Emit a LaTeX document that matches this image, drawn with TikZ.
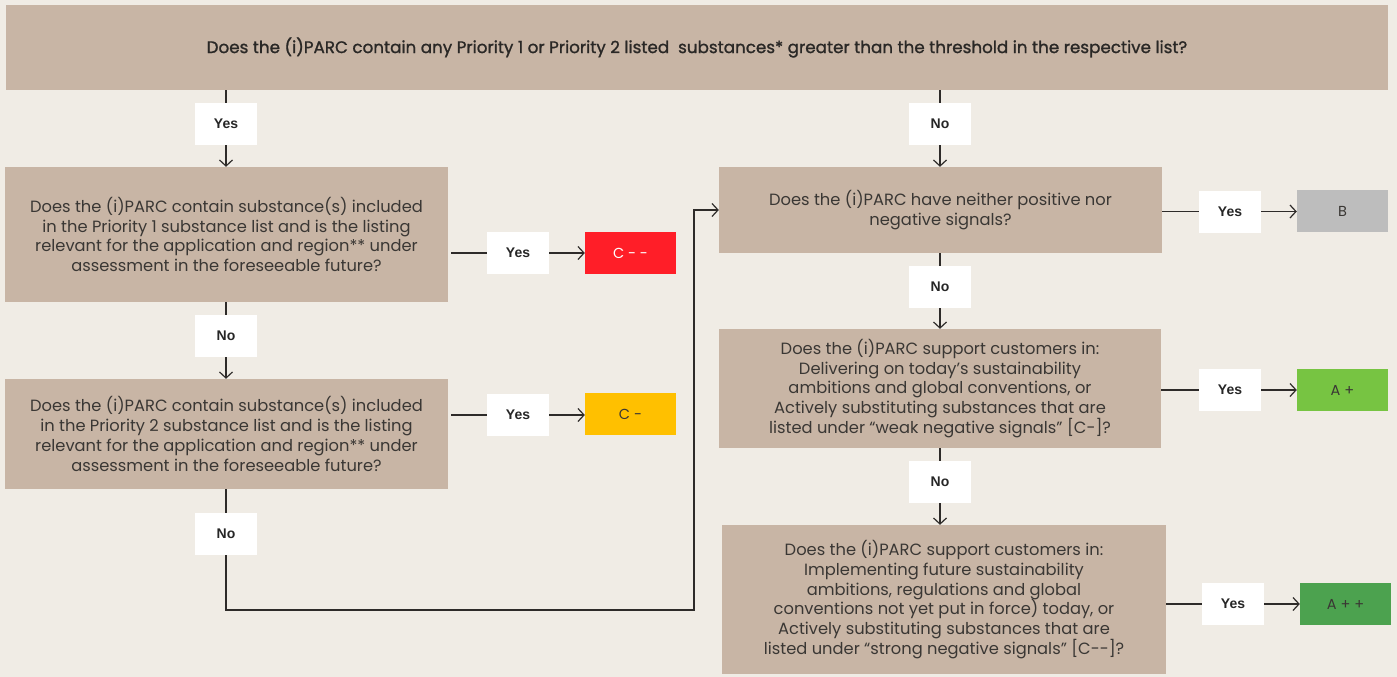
\documentclass[tikz,border=0pt]{standalone}
\usepackage{fontspec}
\setmainfont{Poppins}
\newfontfamily\headfont[FakeBold=1.2]{Poppins}
\newfontfamily\tagfont{Liberation Sans}
\usetikzlibrary{arrows.meta}

\definecolor{bgcol}{HTML}{F0ECE5}
\definecolor{boxcol}{HTML}{C8B5A5}
\definecolor{inkcol}{HTML}{3A3734}
\definecolor{headcol}{HTML}{2A2826}
\definecolor{linecol}{HTML}{2E2B29}
\definecolor{redcol}{HTML}{FF1E28}
\definecolor{ambercol}{HTML}{FFC000}
\definecolor{greycol}{HTML}{BDBDBD}
\definecolor{lgreencol}{HTML}{77C442}
\definecolor{dgreencol}{HTML}{4CA24F}

\tikzset{
  question/.style={fill=boxcol, inner sep=0pt, align=center, text=inkcol,
    font=\fontsize{16.3}{19.8}\selectfont},
  answer/.style={fill=white, inner sep=0pt, minimum width=62pt, minimum height=42pt,
    text=black!85, font=\tagfont\bfseries\fontsize{14}{16}\selectfont},
  grade/.style={inner sep=0pt, minimum width=91pt, minimum height=42pt,
    text=inkcol, font=\fontsize{14.5}{16}\selectfont},
  link/.style={draw=linecol, line width=1.3pt},
  arrowlink/.style={link, -{Straight Barb[length=6pt,width=13pt,line width=1.2pt]}}
}

\begin{document}
\begin{tikzpicture}[x=1pt,y=-1pt]
  \fill[bgcol] (0,0) rectangle (1397,677);
  \useasboundingbox (0,0) rectangle (1397,677);

  % question boxes
  \node[question, minimum width=1382pt, minimum height=85pt, text=headcol,
        font=\headfont\fontsize{16.75}{20}\selectfont] (top) at (697,47.5)
    {Does the (i)PARC contain any Priority 1 or Priority 2 listed\ \ substances* greater than the threshold in the respective list?};
  \node[question, minimum width=443pt, minimum height=135pt] (q1) at (226.5,234.5)
    {Does the (i)PARC contain substance(s) included\\in the Priority 1 substance list and is the listing\\relevant for the application and region** under\\assessment in the foreseeable future?};
  \node[question, minimum width=443pt, minimum height=110pt] (q2) at (226.5,434)
    {Does the (i)PARC contain substance(s) included\\in the Priority 2 substance list and is the listing\\relevant for the application and region** under\\assessment in the foreseeable future?};
  \node[question, minimum width=443pt, minimum height=86pt] (q3) at (940.5,210)
    {Does the (i)PARC have neither positive nor\\negative signals?};
  \node[question, minimum width=442pt, minimum height=119pt] (q4) at (940,388.5)
    {Does the (i)PARC support customers in:\\Delivering on today’s sustainability\\ambitions and global conventions, or\\Actively substituting substances that are\\listed under “weak negative signals” [C-]?};
  \node[question, minimum width=444pt, minimum height=149pt] (q5) at (944,599.5)
    {Does the (i)PARC support customers in:\\Implementing future sustainability\\ambitions, regulations and global\\conventions not yet put in force) today, or\\Actively substituting substances that are\\listed under “strong negative signals” [C-{}-]?};

  % grades
  \node[grade, fill=redcol, text=white] (cmm) at (630.5,253) {C - -};
  \node[grade, fill=ambercol] (cm) at (630.5,414) {C -};
  \node[grade, fill=greycol] (gb) at (1342.5,211) {B};
  \node[grade, fill=lgreencol] (ap) at (1342.5,390) {A +};
  \node[grade, fill=dgreencol] (app) at (1345.5,604) {A + +};

  % answer tags
  \node[answer] (yes0) at (226,124) {Yes};
  \node[answer] (no0) at (940,124) {No};
  \node[answer] (yes1) at (518,253) {Yes};
  \node[answer] (no1) at (226,336) {No};
  \node[answer] (yes2) at (518,415) {Yes};
  \node[answer] (no2) at (226,534) {No};
  \node[answer] (yes3) at (1230,211.5) {Yes};
  \node[answer] (no3) at (940,287) {No};
  \node[answer] (yes4) at (1230,390) {Yes};
  \node[answer] (no4) at (940,482) {No};
  \node[answer] (yes5) at (1233,604) {Yes};

  \coordinate (turnL) at (226,610);
  \coordinate (turnR) at (694,610);

  % left branch
  \draw[link] (top.south -| yes0) -- (yes0.north);
  \draw[arrowlink] (yes0.south) -- (q1.north -| yes0);
  \draw[link] ([xshift=3pt]q1.east |- yes1) -- (yes1.west);
  \draw[arrowlink] (yes1.east) -- (cmm.west);
  \draw[link] (q1.south -| no1) -- (no1.north);
  \draw[arrowlink] (no1.south) -- (q2.north -| no1);
  \draw[link] ([xshift=3pt]q2.east |- yes2) -- (yes2.west);
  \draw[arrowlink] (yes2.east) -- (cm.west |- yes2);
  \draw[link] (q2.south -| no2) -- (no2.north);
  \draw[arrowlink] (no2.south) -- (turnL) -- (turnR) -- (turnR |- q3.west) -- (q3.west);

  % right branch
  \draw[link] (top.south -| no0) -- (no0.north);
  \draw[arrowlink] (no0.south) -- (q3.north -| no0);
  \draw[link] (q3.east |- yes3) -- (yes3.west);
  \draw[arrowlink] (yes3.east) -- (gb.west |- yes3);
  \draw[link] (q3.south -| no3) -- (no3.north);
  \draw[arrowlink] (no3.south) -- (q4.north -| no3);
  \draw[link] (q4.east |- yes4) -- (yes4.west);
  \draw[arrowlink] (yes4.east) -- (ap.west);
  \draw[link] (q4.south -| no4) -- (no4.north);
  \draw[arrowlink] (no4.south) -- (q5.north -| no4);
  \draw[link] (q5.east |- yes5) -- (yes5.west);
  \draw[arrowlink] (yes5.east) -- (app.west);
\end{tikzpicture}
\end{document}
